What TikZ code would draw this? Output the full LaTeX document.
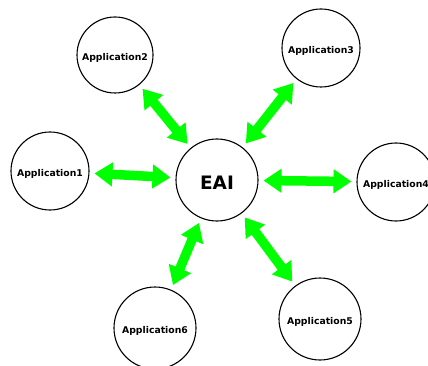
\documentclass[tikz,border=0pt]{standalone}
\usepackage{fontspec}
\setmainfont{DejaVu Sans}
\usetikzlibrary{arrows.meta}
\definecolor{linkgreen}{HTML}{00FF00}
\begin{document}
\begin{tikzpicture}[x=1pt,y=-1pt,
  app/.style={circle,draw=black,line width=1.1pt,fill=white,inner sep=0pt,
    text height=10.8pt,text depth=0pt,
    font=\fontsize{9.3}{11}\selectfont\bfseries},
  hub/.style={app,text height=19.5pt,
    font=\fontsize{18.5}{22}\selectfont\bfseries},
  link/.style={draw=linkgreen,line width=9.5pt,
    {Triangle[width=23pt,length=18pt]}-{Triangle[width=23pt,length=18pt]},
    shorten <=5pt,shorten >=5pt}]
  \useasboundingbox (0,0) rectangle (428,366);
  % hub and the six applications around it
  \node[hub,minimum size=82pt] (eai) at (217,180) {EAI};
  \node[app,minimum size=78pt] (a1) at (50,171) {Application1};
  \node[app,minimum size=76pt] (a2) at (115,55) {Application2};
  \node[app,minimum size=78pt] (a3) at (321,48) {Application3};
  \node[app,minimum size=78pt] (a4) at (396,182) {Application4};
  \node[app,minimum size=82pt] (a5) at (320,319) {Application5};
  \node[app,minimum size=82pt] (a6) at (155,328) {Application6};
  % two-way links between the hub and each application
  \draw[link] (a1) -- (eai);
  \draw[link] (a2) -- (eai);
  \draw[link] (a3) -- (eai);
  \draw[link] (eai) -- (a4);
  \draw[link] (eai) -- (a5);
  \draw[link] (eai) -- (a6);
\end{tikzpicture}
\end{document}
